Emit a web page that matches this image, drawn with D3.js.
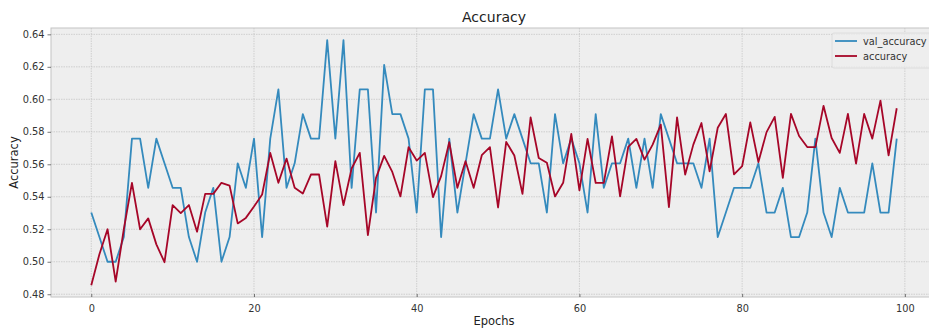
<!DOCTYPE html>
<html>
<head>
<meta charset="utf-8">
<script src="https://cdn.jsdelivr.net/npm/d3@7"></script>
<style>
  body { margin: 0; background: #fff; }
  svg { display: block; font-family: "DejaVu Sans", sans-serif; }
</style>
</head>
<body>
<div id="chart"></div>
<script>
// val_accuracy per epoch (blue)
const valAccuracy = [
  0.5303, 0.5152, 0.5, 0.5, 0.5152, 0.5758, 0.5758, 0.5455, 0.5758, 0.5606,
  0.5455, 0.5455, 0.5152, 0.5, 0.5303, 0.5455, 0.5, 0.5152, 0.5606, 0.5455,
  0.5758, 0.5152, 0.5758, 0.6061, 0.5455, 0.5606, 0.5909, 0.5758, 0.5758, 0.6364,
  0.5758, 0.6364, 0.5455, 0.6061, 0.6061, 0.5303, 0.6212, 0.5909, 0.5909, 0.5758,
  0.5303, 0.6061, 0.6061, 0.5152, 0.5758, 0.5303, 0.5606, 0.5909, 0.5758, 0.5758,
  0.6061, 0.5758, 0.5909, 0.5758, 0.5606, 0.5606, 0.5303, 0.5909, 0.5606, 0.5758,
  0.5606, 0.5303, 0.5909, 0.5455, 0.5606, 0.5606, 0.5758, 0.5455, 0.5758, 0.5455,
  0.5909, 0.5758, 0.5606, 0.5606, 0.5606, 0.5455, 0.5758, 0.5152, 0.5303, 0.5455,
  0.5455, 0.5455, 0.5606, 0.5303, 0.5303, 0.5455, 0.5152, 0.5152, 0.5303, 0.5758,
  0.5303, 0.5152, 0.5455, 0.5303, 0.5303, 0.5303, 0.5606, 0.5303, 0.5303, 0.5758
];
// accuracy per epoch (red)
const accuracy = [
  0.4855, 0.5046, 0.52, 0.4878, 0.52, 0.5486, 0.52, 0.5267, 0.5107, 0.4997,
  0.5349, 0.530, 0.5349, 0.5185, 0.5418, 0.5418, 0.5486, 0.5469, 0.5236, 0.527,
  0.534, 0.5414, 0.567, 0.5486, 0.5635, 0.5455, 0.542, 0.5537, 0.5537, 0.5216,
  0.5619, 0.5349, 0.5574, 0.567, 0.5164, 0.5516, 0.5652, 0.5553, 0.5402, 0.5705,
  0.5623, 0.567, 0.5398, 0.5527, 0.5736, 0.5455, 0.5619, 0.5455, 0.5656, 0.5705,
  0.5334, 0.5738, 0.5654, 0.5418, 0.5889, 0.5639, 0.5609, 0.5402, 0.5486, 0.5787,
  0.5439, 0.5756, 0.5485, 0.5486, 0.5772, 0.5402, 0.5707, 0.5756, 0.5629, 0.5721,
  0.5844, 0.5336, 0.5889, 0.5537, 0.5721, 0.5854, 0.5557, 0.5825, 0.591, 0.5538,
  0.5588, 0.5858, 0.5614, 0.5798, 0.5892, 0.5516, 0.591, 0.5774, 0.5706, 0.5706,
  0.596, 0.5762, 0.567, 0.591, 0.5604, 0.591, 0.5758, 0.5992, 0.5655, 0.5945
];
const xTicks = [0, 20, 40, 60, 80, 100];
const yTicks = [0.48, 0.50, 0.52, 0.54, 0.56, 0.58, 0.60, 0.62, 0.64];
const seriesNames = ["val_accuracy", "accuracy"];
const seriesColors = ["#348ABD", "#A60628"];

const width = 929, height = 331;
const margin = { top: 28, right: -8, bottom: 34, left: 51 };
const innerW = width - margin.left - margin.right;
const innerH = height - margin.top - margin.bottom;

const svg = d3.select("#chart").append("svg")
  .attr("width", width)
  .attr("height", height);

const g = svg.append("g")
  .attr("transform", "translate(" + margin.left + "," + margin.top + ")");

const n = valAccuracy.length;
const x = d3.scaleLinear().domain([-4.95, (n - 1) + 4.95]).range([0, innerW]);
const y = d3.scaleLinear().domain([0.4783, 0.6439]).range([innerH, 0]);

// plot background
g.append("rect")
  .attr("width", innerW)
  .attr("height", innerH)
  .attr("fill", "#eeeeee")
  .attr("stroke", "#c4c4c4")
  .attr("stroke-width", 1);

// grid
g.append("g").selectAll("line").data(yTicks).enter().append("line")
  .attr("x1", 0).attr("x2", innerW)
  .attr("y1", d => y(d)).attr("y2", d => y(d))
  .attr("stroke", "#c2c2c2").attr("stroke-width", 0.7)
  .attr("stroke-dasharray", "1.5,1");
g.append("g").selectAll("line").data(xTicks).enter().append("line")
  .attr("y1", 0).attr("y2", innerH)
  .attr("x1", d => x(d)).attr("x2", d => x(d))
  .attr("stroke", "#c2c2c2").attr("stroke-width", 0.7)
  .attr("stroke-dasharray", "1.5,1");

// axes
const xAxis = g.append("g")
  .attr("transform", "translate(0," + innerH + ")")
  .call(d3.axisBottom(x).tickValues(xTicks).tickSize(-3).tickPadding(8));
const yAxis = g.append("g")
  .call(d3.axisLeft(y).tickValues(yTicks).tickFormat(d3.format(".2f")).tickSize(3.5).tickPadding(3));

[xAxis, yAxis].forEach(a => {
  a.select(".domain").remove();
  a.selectAll("line").attr("stroke", "#555").attr("stroke-width", 0.8);
  a.selectAll("text")
    .attr("fill", "#333")
    .style("font-size", "9.8px")
    .style("font-family", "'DejaVu Sans', sans-serif");
});

// lines
const line = d3.line()
  .x((d, i) => x(i))
  .y(d => y(d));

[valAccuracy, accuracy].forEach((s, k) => {
  g.append("path")
    .datum(s)
    .attr("fill", "none")
    .attr("stroke", seriesColors[k])
    .attr("stroke-width", 1.8)
    .attr("stroke-linejoin", "round")
    .attr("d", line);
});

// title & labels
svg.append("text")
  .attr("x", margin.left + x(49.5))
  .attr("y", 22)
  .attr("text-anchor", "middle")
  .style("font-size", "14px")
  .attr("fill", "#222")
  .text("Accuracy");

svg.append("text")
  .attr("x", margin.left + x(49.5))
  .attr("y", 325)
  .attr("text-anchor", "middle")
  .style("font-size", "11.5px")
  .attr("fill", "#222")
  .text("Epochs");

svg.append("text")
  .attr("transform", "translate(18," + (margin.top + innerH / 2) + ") rotate(-90)")
  .attr("text-anchor", "middle")
  .style("font-size", "11.5px")
  .attr("fill", "#222")
  .text("Accuracy");

// legend
const legend = svg.append("g").attr("transform", "translate(832,33)");
legend.append("rect")
  .attr("width", 110).attr("height", 35)
  .attr("rx", 2)
  .attr("fill", "#eeeeee").attr("fill-opacity", 0.8)
  .attr("stroke", "#d8d8d8").attr("stroke-width", 0.8);

seriesNames.forEach((name, i) => {
  const row = legend.append("g").attr("transform", "translate(0," + (8 + i * 15) + ")");
  row.append("line")
    .attr("x1", 3).attr("x2", 25)
    .attr("stroke", seriesColors[i]).attr("stroke-width", 1.8);
  row.append("text")
    .attr("x", 31).attr("y", 3.5)
    .style("font-size", "9.8px")
    .attr("fill", "#333")
    .text(name);
});
</script>
</body>
</html>
